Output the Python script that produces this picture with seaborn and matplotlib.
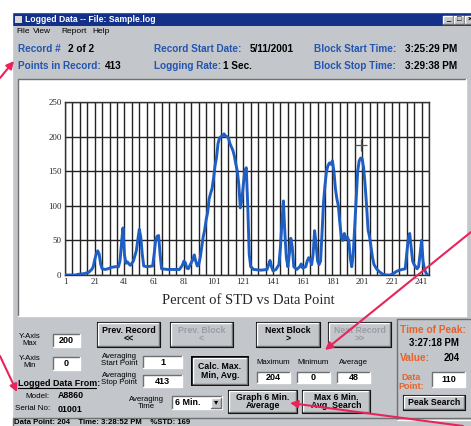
import numpy as np
import pandas as pd
import matplotlib.pyplot as plt
import matplotlib.patches as mpatches
import seaborn as sns

# Percent of STD vs data point
data_point = [1, 8, 10, 14, 17, 19, 20, 21, 22, 23, 24, 25, 26, 28, 30, 32, 35, 37, 38, 39,
              40, 41, 42, 43, 44, 45, 47, 49, 50, 51, 52, 53, 54, 56, 60, 61, 62, 63, 64, 65,
              66, 70, 75, 78, 80, 81, 82, 83, 84, 86, 87, 88, 89, 90, 91, 92, 93, 94, 95, 96,
              97, 98, 99, 100, 101, 102, 103, 104, 105, 106, 107, 108, 109, 110, 111, 112, 113, 114, 115, 116,
              117, 118, 119, 120, 121, 122, 123, 124, 125, 126, 128, 133, 137, 138, 139, 140, 141, 143, 145, 146,
              147, 148, 149, 150, 151, 152, 153, 154, 155, 157, 159, 160, 161, 163, 164, 165, 166, 167, 168, 169,
              170, 171, 172, 173, 174, 175, 176, 177, 178, 179, 180, 181, 182, 183, 184, 185, 186, 187, 188, 189,
              190, 191, 192, 193, 194, 195, 196, 197, 198, 199, 200, 201, 202, 203, 204, 205, 206, 207, 208, 209,
              211, 213, 215, 217, 220, 222, 224, 226, 228, 230, 231, 232, 233, 234, 235, 236, 238, 239, 240, 241,
              242, 243, 244, 245]
pct_std = [0, 0, 1, 2, 4, 8, 12, 22, 30, 35, 30, 16, 9, 8, 9, 11, 12, 12, 20, 45,
           68, 30, 17, 19, 16, 14, 20, 35, 50, 66, 55, 30, 13, 12, 13, 30, 50, 56, 57, 30,
           9, 8, 8, 8, 14, 20, 18, 10, 9, 18, 22, 29, 20, 13, 15, 25, 40, 55, 65, 80,
           90, 110, 118, 125, 140, 158, 170, 190, 198, 200, 201, 204, 201, 200, 198, 190, 185, 180, 172, 160,
           150, 130, 97, 108, 130, 150, 155, 100, 30, 12, 8, 7, 8, 15, 21, 12, 6, 8, 15, 40,
           75, 107, 60, 25, 12, 30, 53, 40, 12, 8, 12, 16, 10, 12, 20, 25, 22, 15, 30, 64,
           45, 20, 15, 20, 60, 105, 130, 150, 158, 162, 160, 165, 150, 125, 110, 100, 75, 55, 50, 60,
           52, 55, 50, 25, 12, 30, 70, 110, 150, 165, 169, 168, 155, 130, 100, 65, 55, 40, 25, 15,
           8, 4, 1, 0, 0, 2, 5, 7, 8, 9, 30, 52, 60, 40, 20, 15, 9, 12, 30, 50,
           20, 8, 3, 0]
x_ticks = [1, 21, 41, 61, 81, 101, 121, 141, 161, 181, 201, 221, 241]
y_ticks = [0, 50, 100, 150, 200, 250]
cursor_point = [200]
cursor_value = [188]

df = pd.DataFrame({'Data Point': data_point, 'Percent of STD': pct_std})

sns.set_theme(style="white")
plt.rcParams['font.family'] = ['Liberation Sans', 'DejaVu Sans']

W, H = 471, 426
GRAY = '#c3c6ca'
BLUE = '#2455b0'
ORANGE = '#e8632b'
PINK = '#e8245a'

fig = plt.figure(figsize=(W / 100, H / 100), dpi=100)
fig.patch.set_facecolor('white')

ui = fig.add_axes([0, 0, 1, 1], zorder=0)
ui.set_xlim(0, W)
ui.set_ylim(H, 0)
ui.axis('off')


def rect(x0, y0, x1, y1, fc, ec='none', lw=0, z=1):
    ui.add_patch(mpatches.Rectangle((x0, y0), x1 - x0, y1 - y0, facecolor=fc,
                                    edgecolor=ec, lw=lw, zorder=z))


def bevel(x0, y0, x1, y1, raised=True, z=3):
    light, dark = ('white', '#707070') if raised else ('#707070', 'white')
    ui.plot([x0, x0, x1], [y1, y0, y0], color=light, lw=1, zorder=z)
    ui.plot([x0, x1, x1], [y1, y1, y0], color=dark, lw=1, zorder=z)


def txt(x, y, s, size=7.2, color='black', weight='bold', ha='left', va='center', **kw):
    ui.text(x, y, s, fontsize=size, color=color, fontweight=weight, ha=ha, va=va,
            zorder=5, linespacing=0.95, **kw)


def button(x0, y0, x1, y1, s, disabled=False, heavy=False):
    rect(x0, y0, x1, y1, GRAY, ec='black', lw=1.4 if heavy else 0.8, z=2)
    bevel(x0 + 1.2, y0 + 1.2, x1 - 1.2, y1 - 1.2)
    txt((x0 + x1) / 2, (y0 + y1) / 2, s, size=6.3, ha='center',
        color='#9a9ea2' if disabled else 'black')


def textbox(x0, y0, x1, y1, s):
    rect(x0, y0, x1, y1, 'white', z=2)
    bevel(x0, y0, x1, y1, raised=False)
    txt((x0 + x1) / 2, (y0 + y1) / 2 + 0.3, s, size=6.5, ha='center')


# window body and title bar
rect(12, 12, W + 2, H + 2, GRAY, z=0.5)
bevel(12, 12, W + 2, H + 2)
rect(13, 13, W, 26, '#14318a', z=1)
rect(15, 16, 22, 23, '#d8d8d8', z=2)
txt(25, 19.5, 'Logged Data -- File: Sample.log', color='white', size=6.2)
for bx, glyph in [(443, '_'), (454, '□'), (465, '×')]:
    rect(bx, 15.5, bx + 10, 23.5, GRAY, z=2)
    bevel(bx, 15.5, bx + 10, 23.5)
    txt(bx + 5, 19.5, glyph, size=5.5, ha='center')

# menu
for mx, item in [(16, 'File'), (33, 'View'), (61, 'Report'), (92, 'Help')]:
    txt(mx, 31.5, item, size=6.0, weight='normal')

# header info rows
txt(18, 49.5, 'Record #', color=BLUE)
txt(68, 49.5, '2 of 2')
txt(18, 66, 'Points in Record:', color=BLUE)
txt(105, 66, '413')
txt(154, 49.5, 'Record Start Date:', color=BLUE)
txt(250, 49.5, '5/11/2001')
txt(154, 66, 'Logging Rate:', color=BLUE)
txt(223, 66, '1 Sec.')
txt(314, 49.5, 'Block Start Time:', color=BLUE)
txt(405, 49.5, '3:25:29 PM')
txt(314, 66, 'Block Stop Time:', color=BLUE)
txt(405, 66, '3:29:38 PM')

# chart panel
rect(18, 79, 466, 316, 'white', z=1)
bevel(18, 79, 466, 316, raised=False)

ax = fig.add_axes([65 / W, (H - 275) / H, (429 - 65) / W, (275 - 102) / H], zorder=2)
sns.lineplot(data=df, x='Data Point', y='Percent of STD', sort=False, estimator=None,
             color='#1f5ec2', linewidth=2.1, ax=ax, zorder=3)
ax.plot(cursor_point, cursor_value, marker='+', ms=8, mew=0.9, color='#555555',
        linestyle='none', zorder=4)
ax.set_xlim(1, 246)
ax.set_ylim(0, 250)
ax.set_xticks(x_ticks)
ax.set_xticks(list(range(1, 247, 5)), minor=True)
ax.set_yticks(y_ticks)
ax.grid(which='both', axis='x', color='#222222', lw=1.0)
ax.grid(which='major', axis='y', color='#222222', lw=1.0)
ax.set_axisbelow(True)
ax.set_xlabel('')
ax.set_ylabel('')
for lab in ax.get_xticklabels() + ax.get_yticklabels():
    lab.set_fontfamily('Liberation Serif')
    lab.set_fontsize(6.3)
    lab.set_color('#222222')
ax.tick_params(length=0, pad=2.5)
for sp in ax.spines.values():
    sp.set_color('#333333')
    sp.set_linewidth(1)
ui.text(248, 301, 'Percent of STD vs Data Point', fontsize=10.5, family='Liberation Serif',
        ha='center', va='center', zorder=5)

# axis limits
txt(30, 340, 'Y-Axis\nMax', size=5.6, weight='normal', ha='center')
textbox(53, 334, 80, 347, '200')
txt(30, 362, 'Y-Axis\nMin', size=5.6, weight='normal', ha='center')
textbox(53, 357, 80, 370, '0')

# logger info
txt(18, 383, 'Logged Data From:', size=6.4)
ui.plot([18, 96], [387.5, 387.5], color='black', lw=0.8, zorder=5)
txt(50, 396, 'Model:', size=5.8, weight='normal', ha='right')
txt(58, 396, 'A8860', size=6.4)
txt(50, 409, 'Serial No:', size=5.8, weight='normal', ha='right')
txt(58, 409, '01001', size=6.4)

# navigation buttons
button(97, 322, 160, 347, 'Prev. Record\n<<')
button(170, 322, 233, 347, 'Prev. Block\n<', disabled=True)
button(256, 322, 320, 347, 'Next Block\n>')
button(328, 322, 391, 347, 'Next Record\n>>', disabled=True)

# averaging
txt(119, 360, 'Averaging\nStart Point', size=5.6, weight='normal', ha='center')
textbox(143, 356, 182, 368, '1')
txt(119, 379, 'Averaging\nStop Point', size=5.6, weight='normal', ha='center')
textbox(143, 375, 182, 387, '413')
button(192, 357, 248, 385, 'Calc. Max.\nMin, Avg.', heavy=True)
for cx, name, val in [(273, 'Maximum', '204'), (313, 'Minimum', '0'), (353, 'Average', '48')]:
    txt(cx, 363, name, size=5.6, weight='normal', ha='center')
    textbox(cx - 16, 372, cx + 17, 383, val)
txt(146, 403, 'Averaging\nTime', size=5.6, weight='normal', ha='center')
rect(172, 396, 222, 409, 'white', z=2)
bevel(172, 396, 222, 409, raised=False)
txt(175, 402.5, '6 Min.', size=6.4)
rect(211, 397.5, 220.5, 407.5, GRAY, z=3)
bevel(211, 397.5, 220.5, 407.5, z=4)
txt(215.8, 402.5, '▾', size=6, ha='center', weight='normal')
button(228, 390, 297, 413, 'Graph 6 Min.\nAverage')
button(302, 390, 370, 413, 'Max 6 Min.\nAvg. Search')

# peak panel
bevel(397, 319, W + 2, 420, raised=False)
txt(400, 330, 'Time of Peak:', color=ORANGE, size=7.3)
txt(434, 343, '3:27:18 PM', size=6.9, ha='center')
txt(400, 358, 'Value:', color=ORANGE, size=7.3)
txt(452, 358, '204', size=6.9, ha='center')
txt(411, 382, 'Data\nPoint:', color=ORANGE, size=6.4, ha='center')
textbox(432, 372, 465, 387, '110')
button(403, 395, 465, 410, 'Peak Search')

# status bar
rect(12, 418, W + 2, H + 2, GRAY, z=1)
bevel(13, 418, W + 2, H + 2, raised=False)
txt(14, 422.3, 'Data Point: 204    Time: 3:28:52 PM    %STD: 169', size=5.6)

# magenta callout arrows
top = fig.add_axes([0, 0, 1, 1], zorder=6)
top.set_xlim(0, W)
top.set_ylim(H, 0)
top.axis('off')
for (x0, y0), (x1, y1) in [((0, 78), (14, 61)), ((W, 232), (325, 350)),
                           ((0, 356), (17, 392)), ((463, 426), (290, 403))]:
    top.annotate('', xy=(x1, y1), xytext=(x0, y0),
                 arrowprops=dict(arrowstyle='-|>', color=PINK, lw=1.5,
                                 mutation_scale=11, shrinkA=0, shrinkB=0))

fig.savefig('out.png', dpi=100)
